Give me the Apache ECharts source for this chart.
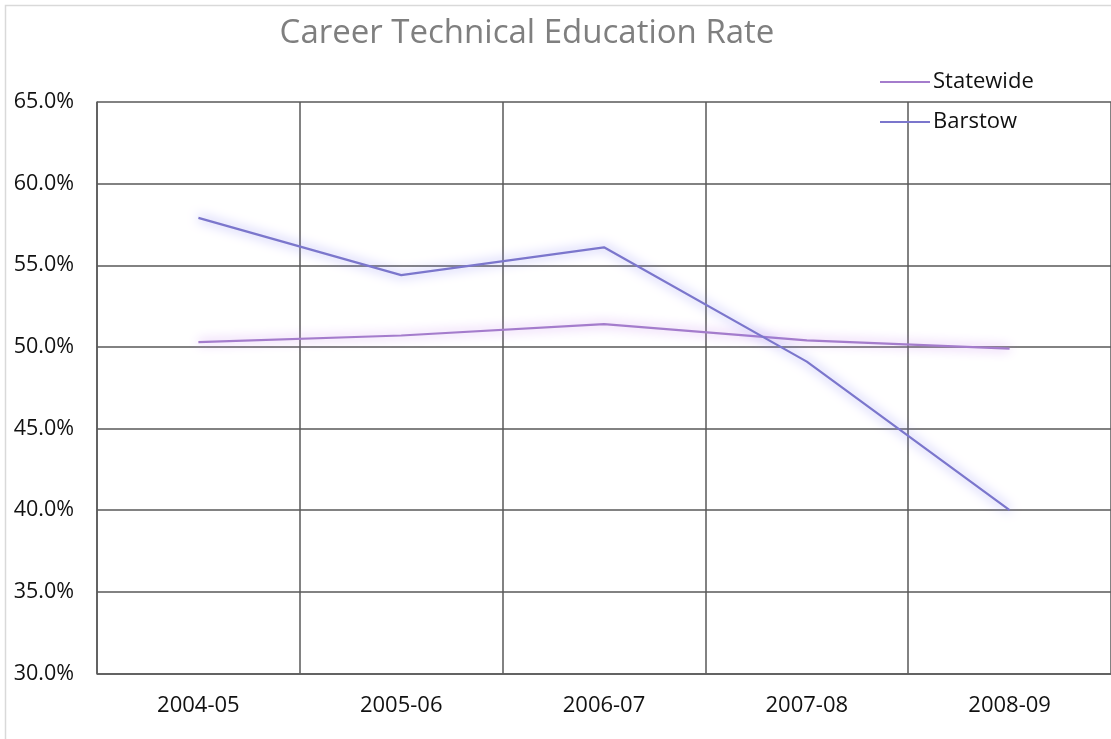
<!DOCTYPE html>
<html><head><meta charset="utf-8">
<script src="https://cdn.jsdelivr.net/npm/echarts@6/dist/echarts.min.js"></script>
<style>html,body{margin:0;padding:0;background:#fff}#c{width:1111px;height:739px}</style>
</head><body><div id="c"></div>
<script>
const categories = ['2004-05','2005-06','2006-07','2007-08','2008-09'];
const statewide = [50.3, 50.7, 51.4, 50.4, 49.9];
const barstow = [57.9, 54.4, 56.1, 49.1, 40.0];
const seriesNames = ['Statewide','Barstow'];
const titleText = 'Career Technical Education Rate';

const FONT = '"Open Sans", "Noto Sans", sans-serif';
const chart = echarts.init(document.getElementById('c'));
chart.setOption({
  animation: false,
  backgroundColor: '#fff',
  title: { text: titleText, left: 522, textAlign: 'center', top: 12,
    textStyle: { color: '#7f7f7f', fontSize: 33, fontWeight: 'normal', fontFamily: FONT } },
  legend: { orient: 'vertical', left: 875, top: 66, itemWidth: 50, itemHeight: 2, itemGap: 18,
    icon: 'rect',
    textStyle: { color: '#111', fontSize: 22, fontFamily: FONT, padding: [0,0,0,-2] },
    data: seriesNames },
  graphic: [{ type: 'rect', shape: { x: 5.5, y: 5.5, width: 1120, height: 760 },
    style: { fill: 'none', stroke: '#d9d9d9', lineWidth: 1.5 }, silent: true }],
  grid: { left: 97, top: 102, width: 1015, height: 571.5, containLabel: false },
  xAxis: { type: 'category', data: categories, boundaryGap: true,
    axisLine: { lineStyle: { color: '#595959', width: 1.5 } },
    axisTick: { show: false },
    splitLine: { show: true, lineStyle: { color: '#595959', width: 1.5 } },
    axisLabel: { color: '#111', fontSize: 22, fontFamily: FONT, margin: 21 } },
  yAxis: { type: 'value', min: 30, max: 65, interval: 5,
    axisLine: { show: true, lineStyle: { color: '#595959', width: 1.5 } },
    axisTick: { show: false },
    splitLine: { show: true, lineStyle: { color: '#595959', width: 1.5 } },
    axisLabel: { color: '#111', fontSize: 21.5, fontFamily: FONT, margin: 23,
      formatter: v => v.toFixed(1) + '%' } },
  series: [
    { name: seriesNames[0], type: 'line', data: statewide, symbol: 'none', showSymbol: false,
      lineStyle: { color: '#a47ccc', width: 2.2, shadowColor: 'rgba(195,130,235,1)', shadowBlur: 12 },
      itemStyle: { color: '#a47ccc' } },
    { name: seriesNames[1], type: 'line', data: barstow, symbol: 'none', showSymbol: false,
      lineStyle: { color: '#7b76cc', width: 2.2, shadowColor: 'rgba(130,125,240,1)', shadowBlur: 12 },
      itemStyle: { color: '#7b76cc' } }
  ]
});
</script></body></html>
